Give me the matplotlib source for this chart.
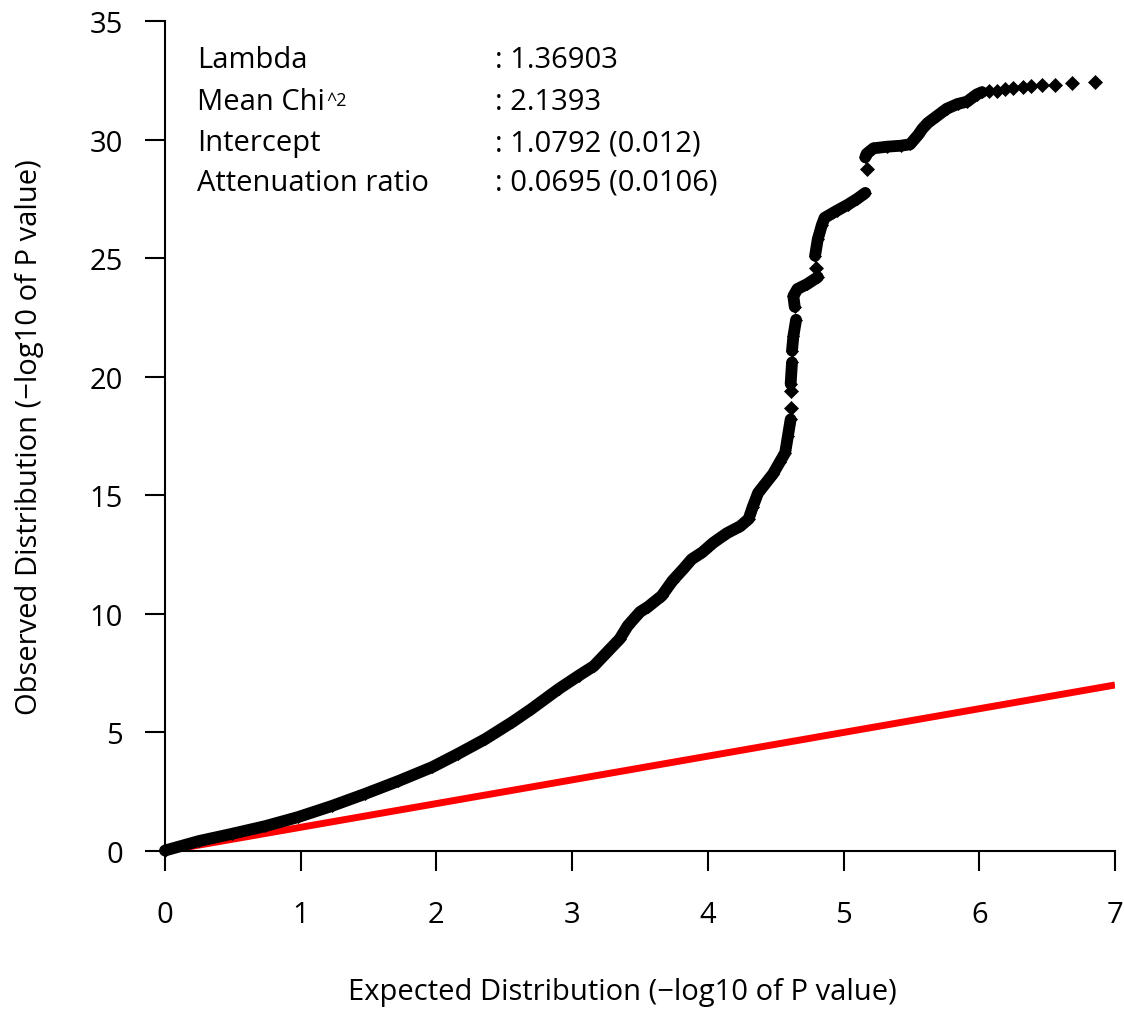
import matplotlib
matplotlib.use("Agg")
import matplotlib.pyplot as plt
import numpy as np

plt.rcParams["font.family"] = ["Open Sans", "DejaVu Sans"]

# QQ curve, split where the dots break apart
seg_x = [
    [0.00, 0.25, 0.49, 0.74, 0.98, 1.23, 1.47, 1.72, 1.97, 2.16, 2.36, 2.56,
     2.70, 2.90, 3.05, 3.16, 3.26, 3.35, 3.41, 3.50, 3.56, 3.66, 3.74, 3.82,
     3.88, 3.96, 4.04, 4.14, 4.24, 4.30, 4.33, 4.37, 4.48, 4.53, 4.57, 4.59, 4.61],
    [4.61, 4.62],
    [4.62, 4.63, 4.65],
    [4.64, 4.63, 4.66, 4.73, 4.81],
    [4.79, 4.81, 4.84, 4.86, 4.95, 5.03, 5.10, 5.16],
    [5.16, 5.17, 5.22, 5.32, 5.42, 5.49, 5.55, 5.58, 5.62, 5.69, 5.76, 5.84,
     5.91, 5.98, 6.02],
]
seg_y = [
    [0.02, 0.42, 0.72, 1.05, 1.43, 1.90, 2.40, 2.95, 3.54, 4.10, 4.72, 5.44,
     5.99, 6.83, 7.40, 7.80, 8.40, 8.94, 9.50, 10.08, 10.30, 10.76, 11.40, 11.90,
     12.30, 12.60, 13.00, 13.40, 13.70, 14.00, 14.50, 15.10, 15.90, 16.40, 16.80, 17.50, 18.20],
    [19.70, 20.60],
    [21.10, 21.70, 22.40],
    [22.95, 23.40, 23.70, 23.90, 24.20],
    [25.10, 25.80, 26.40, 26.70, 27.00, 27.25, 27.50, 27.75],
    [29.25, 29.40, 29.63, 29.70, 29.74, 29.80, 30.20, 30.45, 30.70, 31.00, 31.30, 31.50,
     31.60, 31.90, 32.00],
]
single_x = [4.61, 4.61, 4.80, 5.17, 6.07, 6.13, 6.19, 6.25, 6.32, 6.38, 6.46, 6.56, 6.68, 6.85]
single_y = [18.70, 19.40, 24.60, 28.76, 32.05, 32.05, 32.14, 32.17, 32.20, 32.27, 32.30, 32.30, 32.40, 32.43]

stat_names = ["Lambda", "Mean Chi", "Intercept", "Attenuation ratio"]
stat_values = [": 1.36903", ": 2.1393", ": 1.0792 (0.012)", ": 0.0695 (0.0106)"]

x_ticks = [0, 1, 2, 3, 4, 5, 6, 7]
y_ticks = [0, 5, 10, 15, 20, 25, 30, 35]

FS = 21

fig = plt.figure(figsize=(11.24, 10.12), dpi=100)
ax = fig.add_axes([165 / 1124, 1 - 852 / 1012, 950 / 1124, 830 / 1012])

ax.plot([0, 7], [0, 7], color="#ff0000", lw=5, solid_capstyle="butt", zorder=2)

for xs, ys in zip(seg_x, seg_y):
    ax.plot(xs, ys, color="black", lw=8.5, solid_capstyle="round",
            solid_joinstyle="round", marker="D", ms=6.5, mew=0.5,
            clip_on=False, zorder=3)
ax.plot(single_x, single_y, ls="none", color="black", marker="D", ms=7,
        mew=0.5, clip_on=False, zorder=3)

ax.set_xlim(0, 7)
ax.set_ylim(0, 35)
ax.set_xticks(x_ticks)
ax.set_yticks(y_ticks)
ax.spines["top"].set_visible(False)
ax.spines["right"].set_visible(False)
for side in ["left", "bottom"]:
    ax.spines[side].set_linewidth(1.5)
ax.tick_params(direction="out", length=14.4, width=1.5, labelsize=FS)
ax.tick_params(axis="x", pad=21)
ax.tick_params(axis="y", pad=16)

# stats block in the top-left corner
row_y = [33.07, 31.29, 29.56, 27.88]
for name, val, y in zip(stat_names, stat_values, row_y):
    t = ax.text(0.236, y, name, fontsize=FS, va="baseline", ha="left")
    ax.text(2.43, y, val, fontsize=FS, va="baseline", ha="left")
    if name == "Mean Chi":
        ax.annotate("^2", xy=(1.0, 1.0), xycoords=t, xytext=(1, -3),
                    textcoords="offset points", fontsize=13, va="top", ha="left")

fig.text(30 / 1124, 1 - 437 / 1012, "Observed Distribution (\u2212log10 of P value)",
         rotation=90, ha="center", va="center", fontsize=FS)
fig.text(622 / 1124, 1 - 993 / 1012, "Expected Distribution (\u2212log10 of P value)",
         ha="center", va="center", fontsize=FS)

fig.savefig("out.png", dpi=100)
